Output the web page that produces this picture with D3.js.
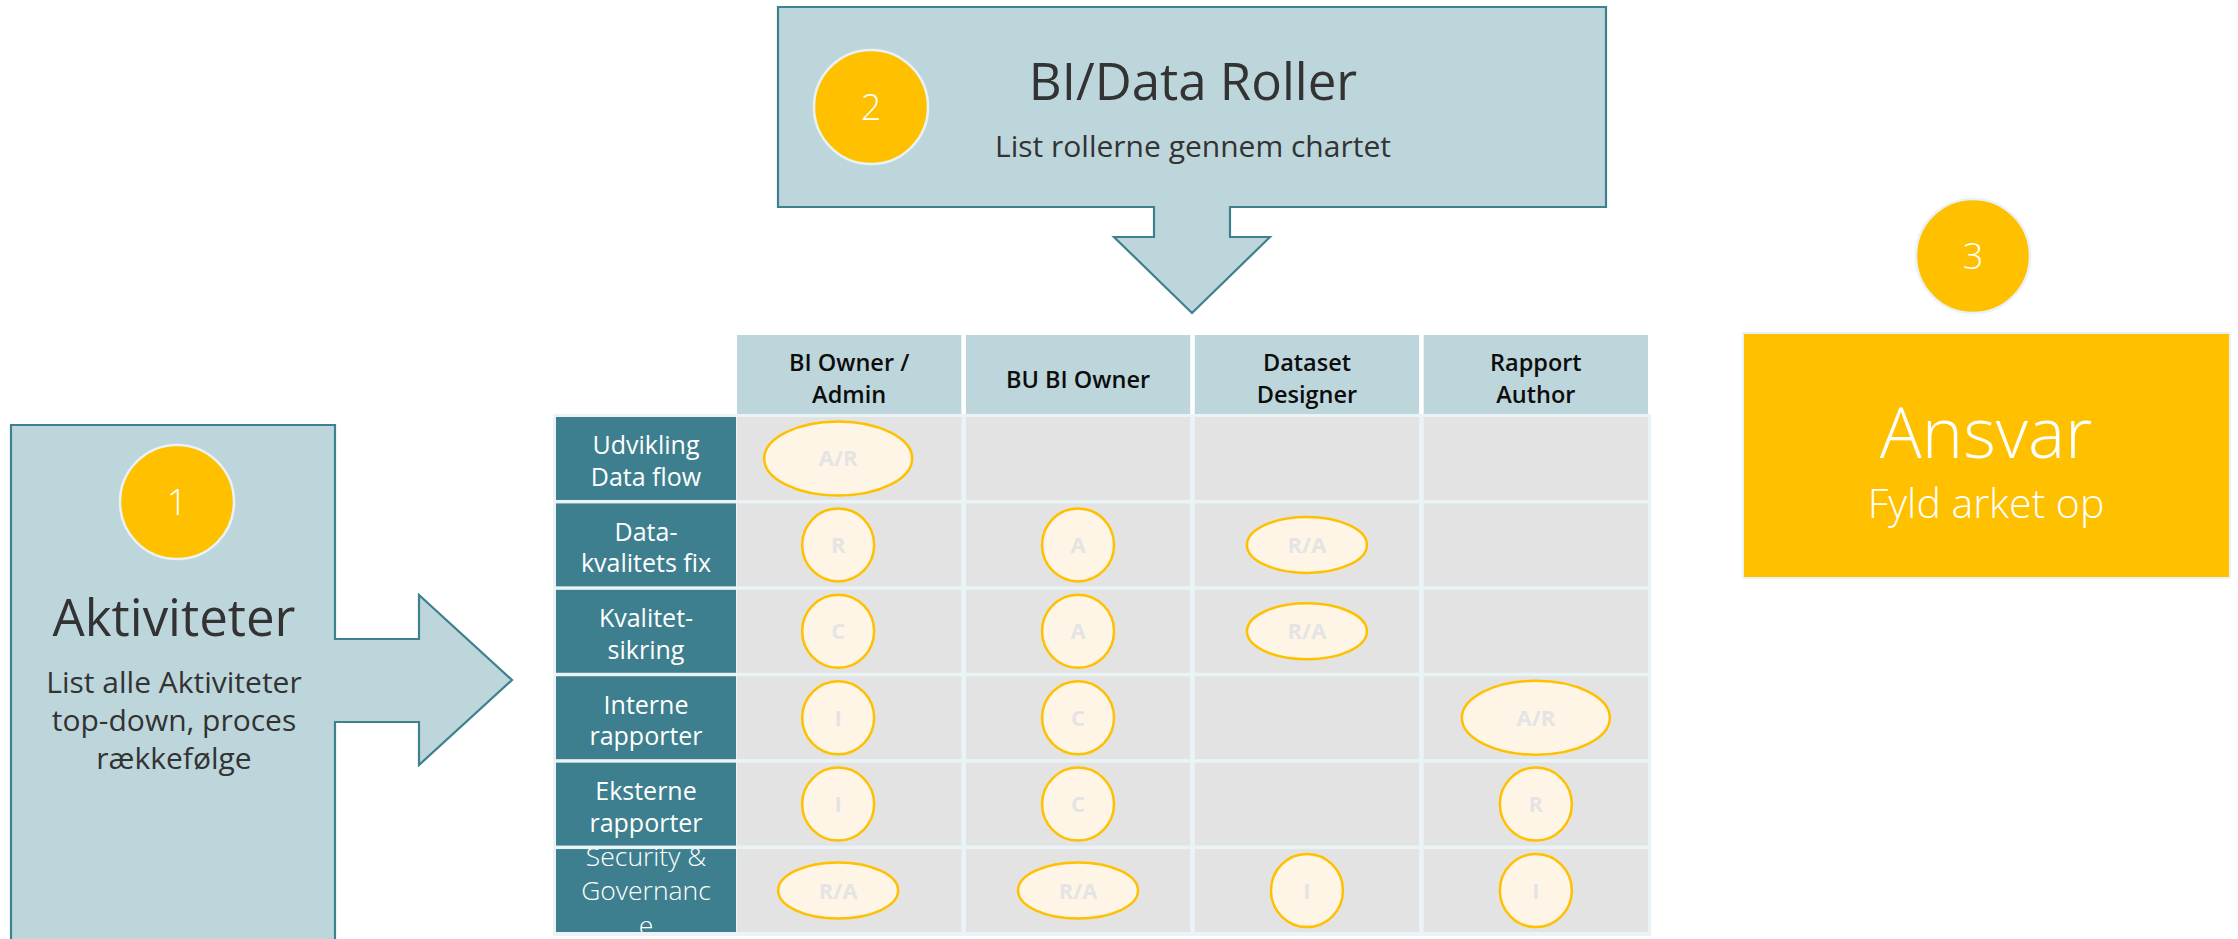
<!DOCTYPE html>
<html>
<head>
<meta charset="utf-8">
<script src="https://cdn.jsdelivr.net/npm/d3@7"></script>
<style>
  html, body { margin: 0; padding: 0; background: #ffffff; }
  svg { display: block; font-family: "Open Sans", "Noto Sans", sans-serif; }
</style>
</head>
<body>
<svg id="chart" width="2238" height="939"></svg>
<script>
// ---------------- DATA ----------------
const roles = ["BI Owner / Admin", "BU BI Owner", "Dataset Designer", "Rapport Author"];
const roleLines = [["BI Owner /", "Admin"], ["BU BI Owner"], ["Dataset", "Designer"], ["Rapport", "Author"]];
const activities = ["Udvikling Data flow", "Data-kvalitets fix", "Kvalitet-sikring", "Interne rapporter", "Eksterne rapporter", "Security & Governance"];
const activityLines = [["Udvikling", "Data flow"], ["Data-", "kvalitets fix"], ["Kvalitet-", "sikring"], ["Interne", "rapporter"], ["Eksterne", "rapporter"], ["Security &", "Governanc", "e"]];
const raciMatrix = [
  ["A/R", "",    "",    ""],
  ["R",   "A",   "R/A", ""],
  ["C",   "A",   "R/A", ""],
  ["I",   "C",   "",    "A/R"],
  ["I",   "C",   "",    "R"],
  ["R/A", "R/A", "I",   "I"]
];
const stepNumbers = ["1", "2", "3"];
const stepTitles = ["Aktiviteter", "BI/Data Roller", "Ansvar"];
const stepSubtitles = [["List alle Aktiviteter", "top-down, proces", "rækkefølge"], ["List rollerne gennem chartet"], ["Fyld arket op"]];

// ---------------- STYLE ----------------
const C = {
  boxFill: "#BDD6DC", boxStroke: "#3F808F", dark: "#333333",
  gold: "#FFC000", halo: "#E9F3F5", header: "#BDD6DB", body: "#E3E3E3",
  label: "#3D7F8E", gap: "#EAF4F7", ellFill: "#FEF5E7", ellText: "#E4E4E4"
};

const svg = d3.select("#chart");

// ---------------- STEP 1: Aktiviteter (box + right arrow) ----------------
const p1 = d3.path();
p1.moveTo(11, 425); p1.lineTo(335, 425); p1.lineTo(335, 639); p1.lineTo(419, 639);
p1.lineTo(419, 595); p1.lineTo(512, 680); p1.lineTo(419, 765); p1.lineTo(419, 722);
p1.lineTo(335, 722); p1.lineTo(335, 950); p1.lineTo(11, 950); p1.closePath();
svg.append("path").attr("d", p1.toString()).attr("fill", C.boxFill)
  .attr("stroke", C.boxStroke).attr("stroke-width", 2.2);

// ---------------- STEP 2: BI/Data Roller (box + down arrow) ----------------
const p2 = d3.path();
p2.moveTo(778, 7); p2.lineTo(1606, 7); p2.lineTo(1606, 207); p2.lineTo(1230, 207);
p2.lineTo(1230, 237); p2.lineTo(1270, 237); p2.lineTo(1192, 313); p2.lineTo(1114, 237);
p2.lineTo(1154, 237); p2.lineTo(1154, 207); p2.lineTo(778, 207); p2.closePath();
svg.append("path").attr("d", p2.toString()).attr("fill", C.boxFill)
  .attr("stroke", C.boxStroke).attr("stroke-width", 2.2);

// ---------------- STEP 3: Ansvar box ----------------
svg.append("rect").attr("x", 1743).attr("y", 333).attr("width", 487).attr("height", 245)
  .attr("fill", C.gold).attr("stroke", C.halo).attr("stroke-width", 2);

// number circles
const circ = [{cx: 177, cy: 502}, {cx: 871, cy: 107}, {cx: 1973, cy: 256}];
const numG = svg.append("g").selectAll("g").data(stepNumbers).join("g")
  .attr("transform", (d, i) => `translate(${circ[i].cx},${circ[i].cy})`);
numG.append("circle").attr("r", 57).attr("fill", C.gold).attr("stroke", C.halo).attr("stroke-width", 2.5);
numG.append("text").attr("text-anchor", "middle").attr("y", 13).attr("fill", "#ffffff")
  .attr("font-size", 36).attr("font-weight", 300).text(d => d);

// step titles / subtitles
const titlePos = [
  {x: 174, y: 636, size: 51, sub: 30, subY: 693, lh: 38, color: C.dark, w: 400, sw: 400},
  {x: 1193, y: 100, size: 51, sub: 30, subY: 157, lh: 38, color: C.dark, w: 400, sw: 400},
  {x: 1986, y: 458, size: 70, sub: 41, subY: 518, lh: 44, color: "#ffffff", w: 300, sw: 300}
];
stepTitles.forEach((t, i) => {
  const p = titlePos[i];
  svg.append("text").attr("x", p.x).attr("y", p.y).attr("text-anchor", "middle")
    .attr("font-size", p.size).attr("font-weight", p.w).attr("fill", p.color).text(t);
  svg.append("g").selectAll("text").data(stepSubtitles[i]).join("text")
    .attr("x", p.x).attr("y", (d, j) => p.subY + j * p.lh).attr("text-anchor", "middle")
    .attr("font-size", p.sub).attr("font-weight", p.sw).attr("fill", p.color).text(d => d);
});

// ---------------- RACI TABLE ----------------
const x = d3.scaleBand().domain(roles).range([737, 1648]).paddingInner(0.02);
const y = d3.scaleBand().domain(activities).range([417, 932]).paddingInner(0.04);
const labelX0 = 556, labelX1 = 736, headY0 = 335, headY1 = 414;

// background for grid lines
svg.append("rect").attr("x", labelX0 - 3).attr("y", headY1).attr("width", 1651 - labelX0 + 3)
  .attr("height", 936 - headY1).attr("fill", C.gap);

// header cells
const head = svg.append("g").selectAll("g").data(roles).join("g");
head.append("rect").attr("x", d => x(d)).attr("y", headY0).attr("width", x.bandwidth())
  .attr("height", headY1 - headY0).attr("fill", C.header);
head.each(function (d, i) {
  const lines = roleLines[i];
  const cy = (headY0 + headY1) / 2;
  const g = d3.select(this);
  g.selectAll("text").data(lines).join("text")
    .attr("x", x(d) + x.bandwidth() / 2)
    .attr("y", (l, j) => lines.length === 1 ? cy + 13 : cy - 3.5 + j * 32)
    .attr("text-anchor", "middle").attr("font-size", 23.5).attr("font-weight", 600)
    .attr("fill", "#0d0d0d").text(l => l);
});

// body cells
const rows = svg.append("g").selectAll("g").data(activities).join("g");
rows.append("rect").attr("x", labelX0).attr("y", d => y(d)).attr("width", labelX1 - labelX0)
  .attr("height", y.bandwidth()).attr("fill", C.label);
rows.each(function (a, ri) {
  const g = d3.select(this);
  roles.forEach(r => {
    g.append("rect").attr("x", x(r)).attr("y", y(a)).attr("width", x.bandwidth())
      .attr("height", y.bandwidth()).attr("fill", C.body);
  });
  // labels, clipped to cell
  const clipId = "clip" + ri;
  svg.append("clipPath").attr("id", clipId).append("rect")
    .attr("x", labelX0).attr("y", y(a)).attr("width", labelX1 - labelX0).attr("height", y.bandwidth());
  const lines = activityLines[ri];
  const cy = y(a) + y.bandwidth() / 2;
  const three = lines.length > 2;
  const lh = three ? 34.5 : 31.5;
  const first = three ? cy - lh + 9.5 : cy - 4;
  g.append("g").attr("clip-path", `url(#${clipId})`).selectAll("text").data(lines).join("text")
    .attr("x", (labelX0 + labelX1) / 2).attr("y", (l, j) => first + j * lh)
    .attr("text-anchor", "middle").attr("font-size", three ? 26.5 : 25)
    .attr("font-weight", three ? 300 : 400).attr("fill", "#ffffff").text(l => l);
});

// RACI markers
const colOffset = [-11, 0, 0, 0];
const markerSize = code => code === "A/R" ? [74, 37] : code === "R/A" ? [60, 28] : [36, 36.5];
const cells = [];
raciMatrix.forEach((row, ri) => row.forEach((code, ci) => {
  if (code) cells.push({act: activities[ri], role: roles[ci], ci, code});
}));
const mk = svg.append("g").selectAll("g").data(cells).join("g")
  .attr("transform", d => `translate(${x(d.role) + x.bandwidth() / 2 + colOffset[d.ci]},${y(d.act) + y.bandwidth() / 2})`);
mk.append("ellipse").attr("rx", d => markerSize(d.code)[0]).attr("ry", d => markerSize(d.code)[1])
  .attr("fill", C.ellFill).attr("stroke", C.gold).attr("stroke-width", 2.5);
mk.append("text").attr("text-anchor", "middle").attr("y", 8).attr("font-size", 22)
  .attr("font-weight", 700).attr("fill", C.ellText).text(d => d.code);
</script>
</body>
</html>
